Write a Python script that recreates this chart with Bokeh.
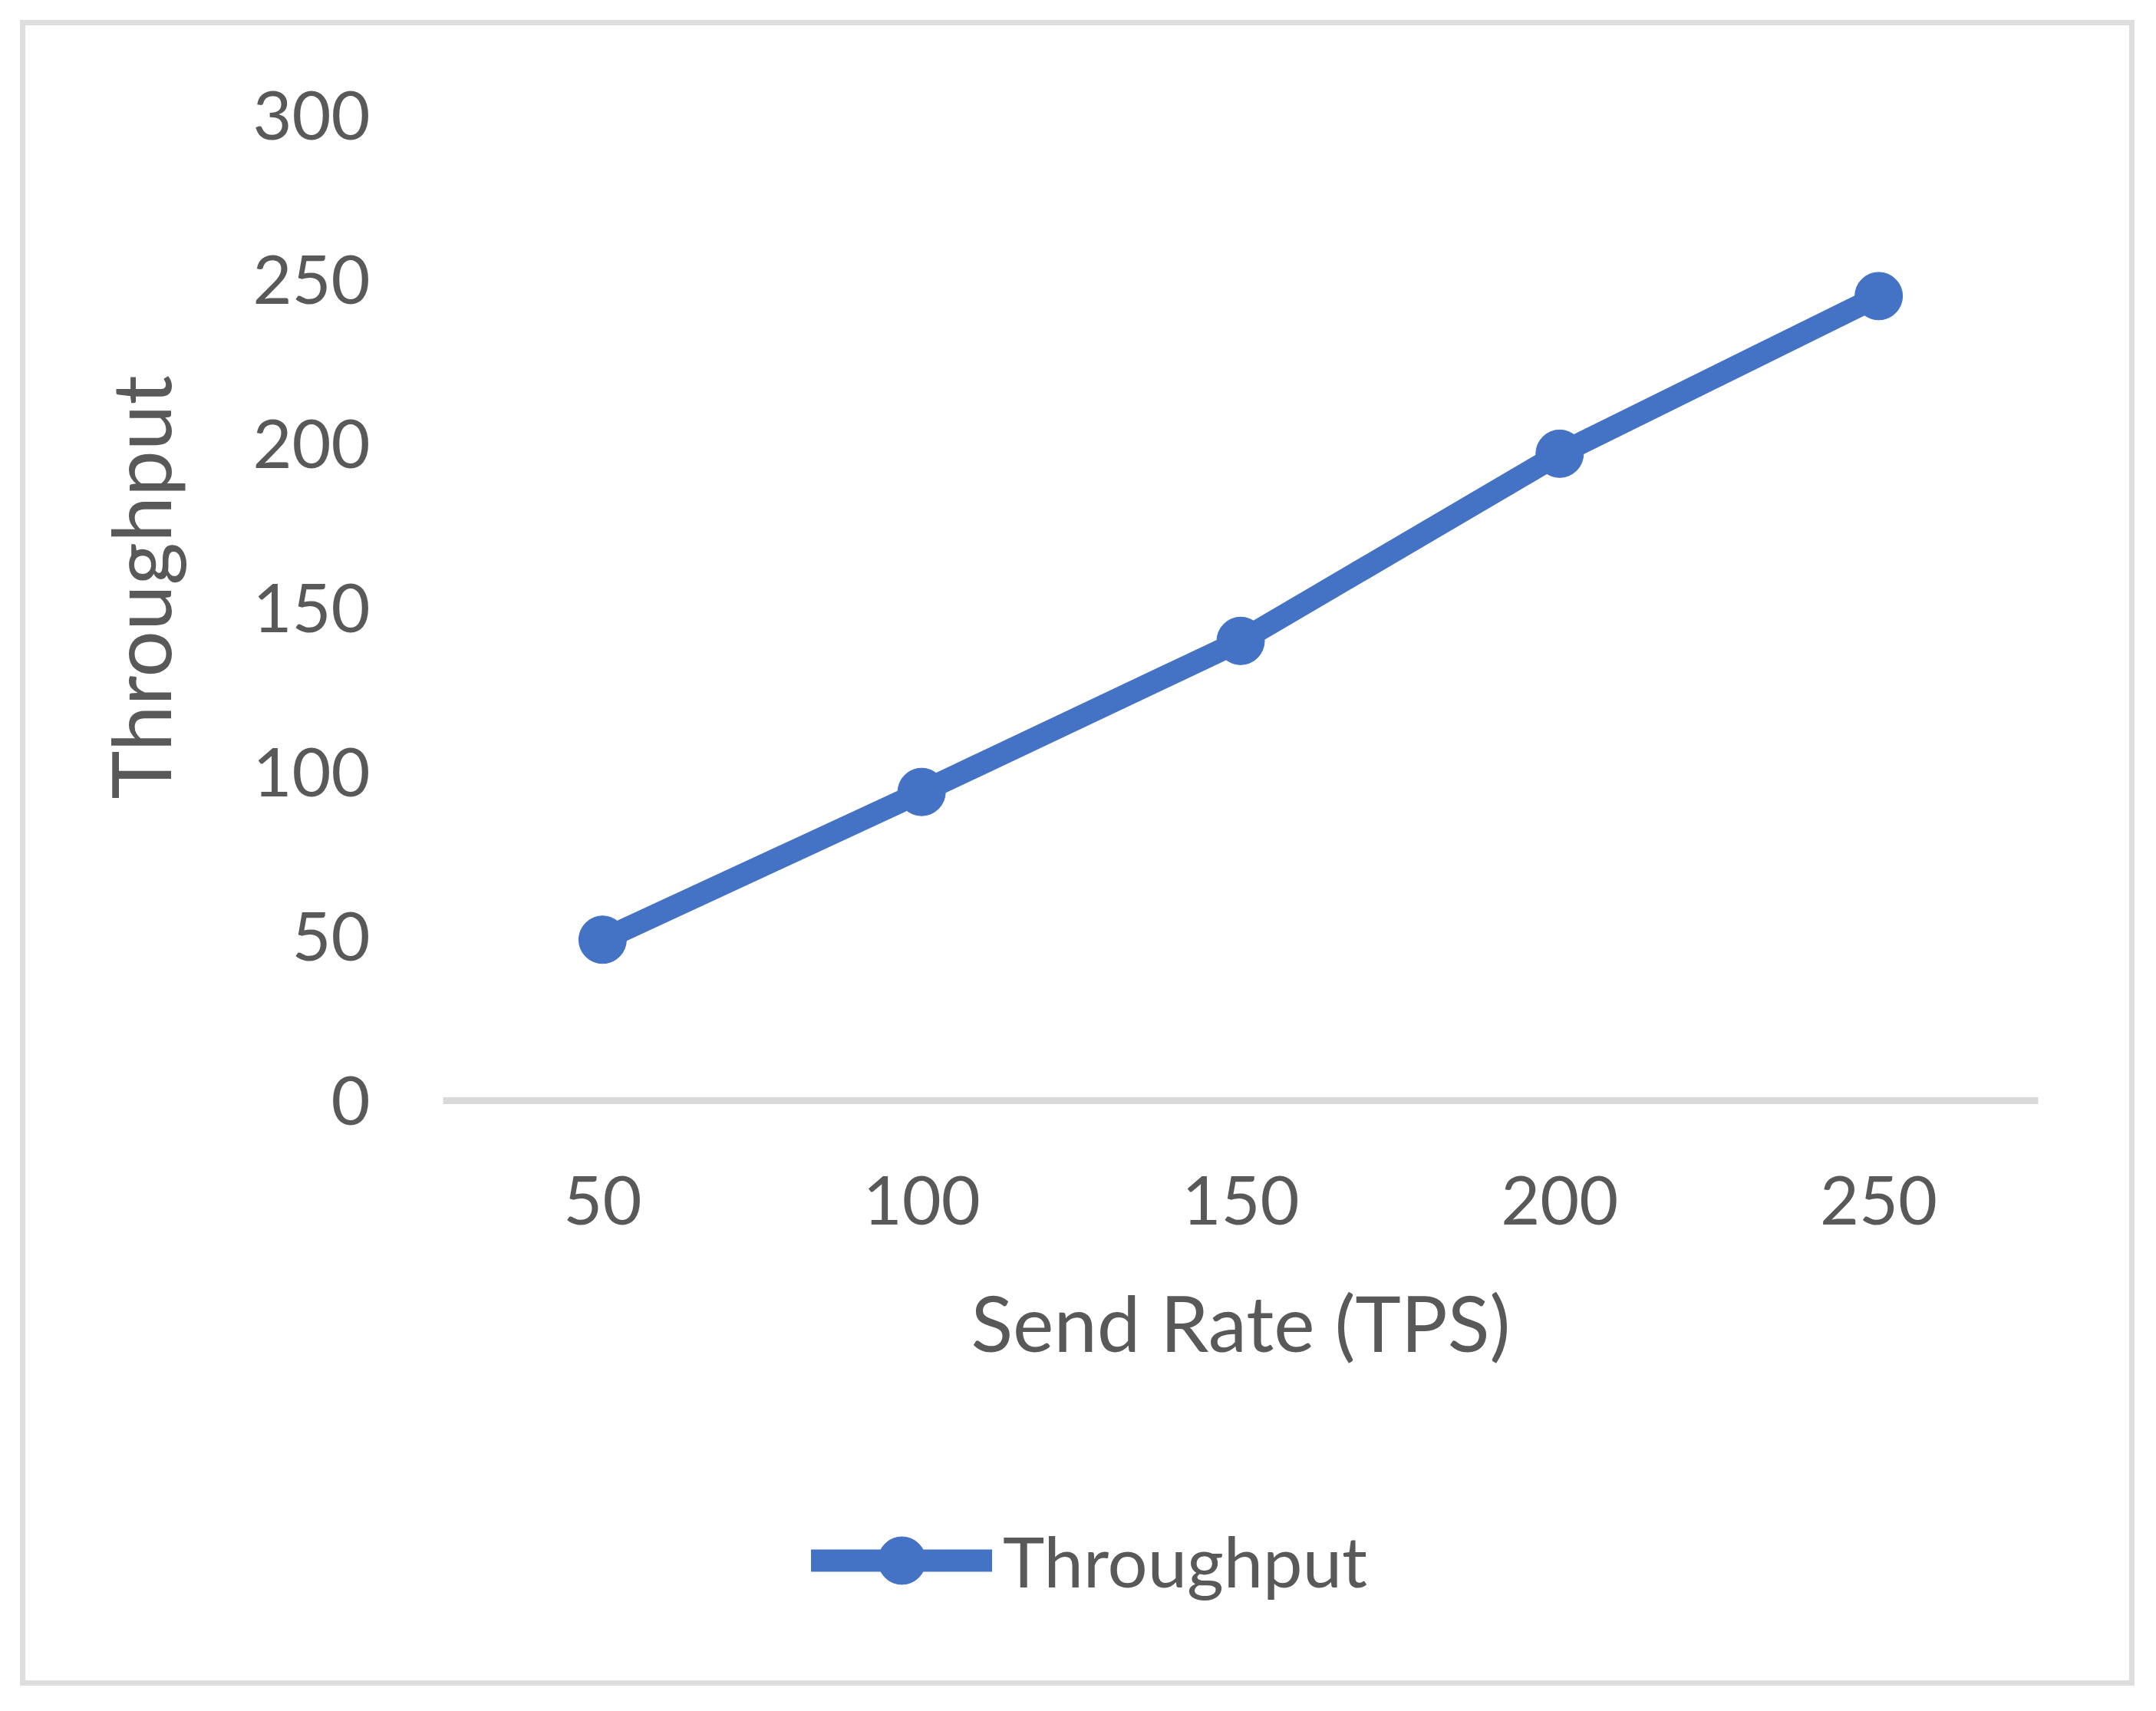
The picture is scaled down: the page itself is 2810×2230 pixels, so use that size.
from bokeh.plotting import figure
from bokeh.layouts import column
from bokeh.models import Range1d, FactorRange, Legend, LegendItem, FixedTicker, Title
from bokeh.embed import file_html
from bokeh.resources import INLINE

# ---- data ----
send_rate = ["50", "100", "150", "200", "250"]
throughput = [49, 94, 140, 197, 245]
y_ticks = [0, 50, 100, 150, 200, 250, 300]

BLUE = "#4472C4"
GRAY_TEXT = "#595959"
FONT = "Lato"

# ---------------- main chart ----------------
p = figure(
    width=2808, height=1900,
    x_range=FactorRange(*send_rate, range_padding=0),
    y_range=Range1d(0, 300),
    output_backend="svg", toolbar_location=None,
    min_border_left=577, min_border_right=152,
    min_border_top=150, min_border_bottom=466,
)
p.background_fill_color = None
p.border_fill_color = None
p.outline_line_color = None
p.xgrid.visible = False
p.ygrid.visible = False

p.line(send_rate, throughput, line_color=BLUE, line_width=29, line_cap="round")
p.scatter(send_rate, throughput, size=62, fill_color=BLUE, line_color=BLUE, marker="circle")

# x axis
xa = p.xaxis[0]
xa.axis_line_color = "#d9d9d9"
xa.axis_line_width = 9
xa.major_tick_line_color = None
xa.minor_tick_line_color = None
xa.major_tick_out = 0
xa.major_label_standoff = 98
xa.major_label_text_font = FONT
xa.major_label_text_font_size = "88px"
xa.major_label_text_color = GRAY_TEXT
xa.axis_label = "Send Rate (TPS)"
xa.axis_label_text_font = FONT
xa.axis_label_text_font_size = "101px"
xa.axis_label_text_font_style = "normal"
xa.axis_label_text_color = GRAY_TEXT
xa.axis_label_standoff = 63

# y axis
ya = p.yaxis[0]
ya.ticker = FixedTicker(ticks=y_ticks)
ya.axis_line_color = None
ya.major_tick_line_color = None
ya.minor_tick_line_color = None
ya.major_tick_out = 0
ya.major_label_standoff = 95
ya.major_label_text_font = FONT
ya.major_label_text_font_size = "88px"
ya.major_label_text_color = GRAY_TEXT

ytitle = Title(
    text="Throughput", align="left", offset=393, standoff=162,
    text_font=FONT, text_font_size="107px", text_font_style="normal",
    text_color=GRAY_TEXT,
)
p.add_layout(ytitle, "left")

# ---------------- legend strip ----------------
pl = figure(
    width=2808, height=323,
    x_range=FactorRange(*send_rate, range_padding=0),
    y_range=Range1d(-2, -1),
    output_backend="svg", toolbar_location=None,
    x_axis_location=None, y_axis_location=None, title=None,
    min_border_left=0, min_border_right=0, min_border_top=0, min_border_bottom=0,
)
pl.background_fill_color = None
pl.border_fill_color = None
pl.outline_line_color = None
pl.xgrid.visible = False
pl.ygrid.visible = False

leg_line = pl.line(send_rate, throughput, line_color=BLUE, line_width=29, line_cap="round")
leg_pts = pl.scatter(send_rate, throughput, size=62, fill_color=BLUE, line_color=BLUE, marker="circle")

legend = Legend(
    items=[LegendItem(label="Throughput", renderers=[leg_line, leg_pts])],
    location=(480, 112),
    orientation="horizontal",
    glyph_width=236, glyph_height=155,
    label_standoff=14,
    label_text_font=FONT, label_text_font_size="92px",
    label_text_color=GRAY_TEXT,
    padding=0, margin=0, spacing=0,
    border_line_alpha=0, background_fill_alpha=0,
)
pl.add_layout(legend, "center")

page = column(
    p, pl, width=2808, height=2223, spacing=0,
    styles={"box-shadow": "inset 0 0 0 26px #ffffff, inset 0 0 0 33px #dedede",
            "background-color": "#ffffff"},
)

open("out.html", "w").write(file_html(page, INLINE))
